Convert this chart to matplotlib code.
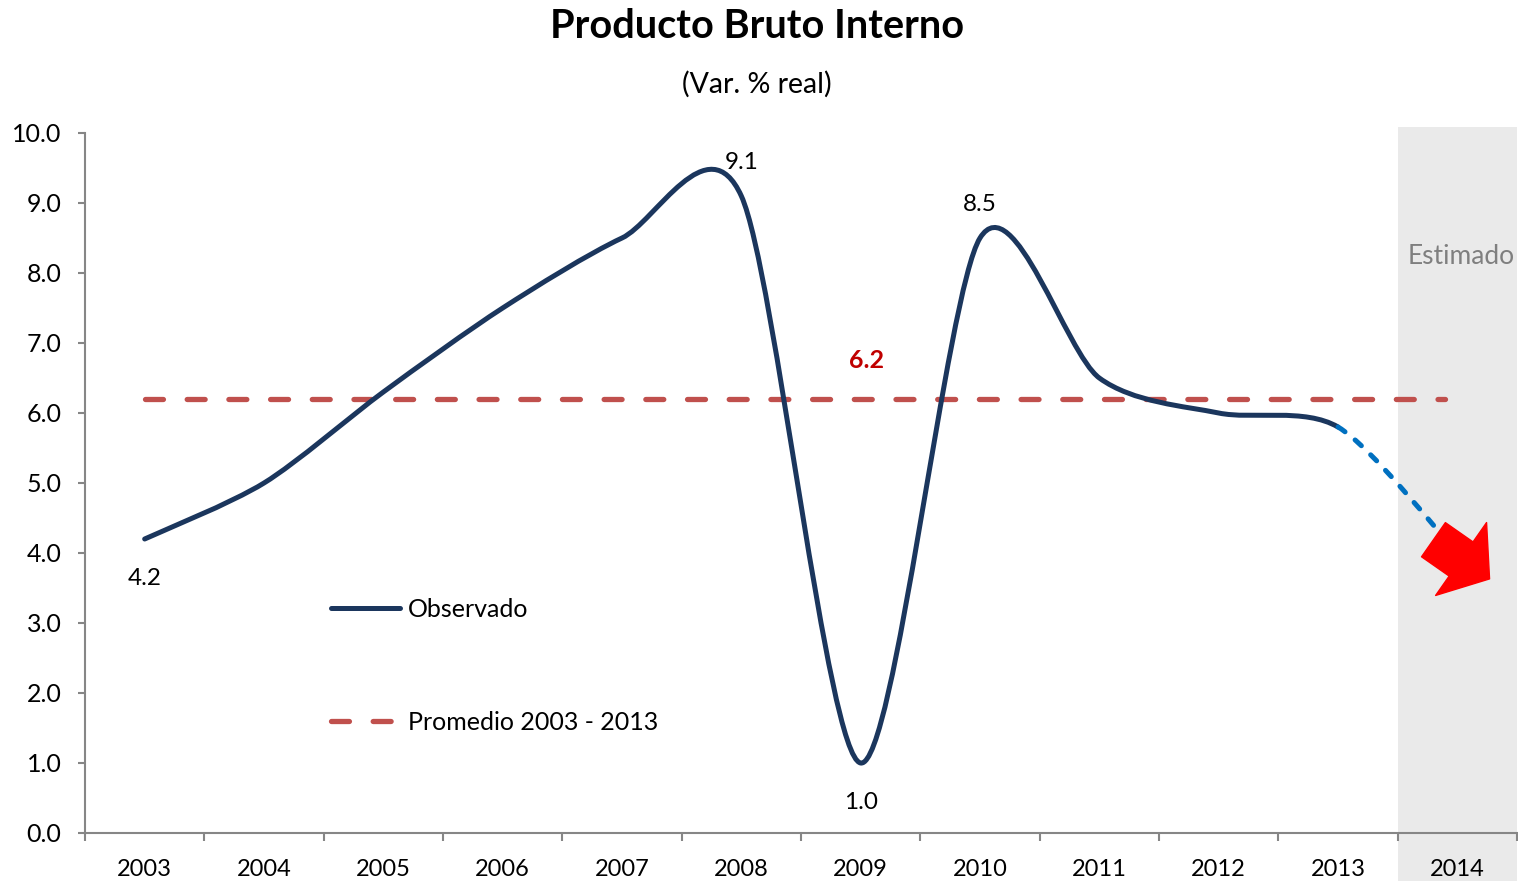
import numpy as np
import matplotlib
matplotlib.use("Agg")
import matplotlib.pyplot as plt
import matplotlib.transforms as mtransforms
from matplotlib.path import Path
from matplotlib.patches import PathPatch, Rectangle
from matplotlib.lines import Line2D

plt.rcParams['font.family'] = ['Lato', 'DejaVu Sans']

# Datos
years = ['2003', '2004', '2005', '2006', '2007', '2008', '2009',
         '2010', '2011', '2012', '2013', '2014']
observado = [4.2, 5.0, 6.3, 7.5, 8.5, 9.1, 1.0, 8.5, 6.5, 6.0, 5.8]
estimado_2014 = 4.0
promedio = 6.2
etiquetas = {'2003': 4.2, '2008': 9.1, '2009': 1.0, '2010': 8.5}
etiqueta_abajo = ['2003', '2009']
y_ticks = [0, 1, 2, 3, 4, 5, 6, 7, 8, 9, 10]

NAVY = '#1B365D'
RED_AVG = '#C0504D'
BLUE_EST = '#0070C0'


def smooth_segments(xs, ys, k=0.14):
    # curva suavizada tipo Excel (Bezier Catmull-Rom)
    pts = np.column_stack([xs, ys]).astype(float)
    n = len(pts)
    segs = []
    for i in range(n - 1):
        p0 = pts[max(i - 1, 0)]
        p1 = pts[i]
        p2 = pts[i + 1]
        p3 = pts[min(i + 2, n - 1)]
        c1 = p1 + (p2 - p0) * k
        c2 = p2 - (p3 - p1) * k
        segs.append([p1, c1, c2, p2])
    return segs


def segs_to_path(segs):
    verts = [segs[0][0]]
    codes = [Path.MOVETO]
    for s in segs:
        verts += [s[1], s[2], s[3]]
        codes += [Path.CURVE4] * 3
    return Path(verts, codes)


fig = plt.figure(figsize=(15.18, 8.81), dpi=100)
ax = fig.add_axes([85 / 1518, 48 / 881, 1432 / 1518, 700 / 881])
ax.set_facecolor('none')

x = np.arange(len(years))
serie = observado + [estimado_2014]
segs = smooth_segments(x, serie)

# zona estimada
trans = mtransforms.blended_transform_factory(ax.transData, fig.transFigure)
ax.add_patch(Rectangle((len(years) - 1.5, 0), 1, 754 / 881, transform=trans,
                       facecolor='#EAEAEA', edgecolor='none', zorder=0,
                       clip_on=False))
ax.text(len(years) - 1 + 0.03, 8.23, 'Estimado', color='#7F7F7F',
        fontsize=19, ha='center', va='center')

# promedio
ax.plot([x[0], x[-1] - 0.1], [promedio, promedio], color=RED_AVG, lw=3.8,
        dashes=(3.4, 4.5), dash_capstyle='round', zorder=2)
ax.annotate(f'{promedio:.1f}', (6.05, promedio), xytext=(0, 28),
            textcoords='offset points', ha='center', va='center',
            color='#C00000', fontsize=18, fontweight='bold')

# observado
obs_path = segs_to_path(segs[:len(observado) - 1])
ax.add_patch(PathPatch(obs_path, facecolor='none', edgecolor=NAVY, lw=3.6,
                       capstyle='round', joinstyle='round', zorder=3))

# estimado
est_path = segs_to_path(segs[len(observado) - 1:])
ax.add_patch(PathPatch(est_path, facecolor='none', edgecolor=BLUE_EST, lw=3.6,
                       linestyle=(0, (1.7, 2.6)), capstyle='round', zorder=3))

# flecha roja
x14 = len(years) - 1
ax.annotate('', xy=(x14 + 0.27, estimado_2014 - 0.37),
            xytext=(x14 - 0.2, estimado_2014 + 0.19),
            arrowprops=dict(arrowstyle='simple,head_length=25,head_width=64,tail_width=30',
                            color='#FF0000', mutation_scale=1,
                            shrinkA=0, shrinkB=0), zorder=4)

# etiquetas de datos
for yr, val in etiquetas.items():
    i = years.index(yr)
    off = -28.5 if yr in etiqueta_abajo else 24
    ax.annotate(f'{val:.1f}', (i, val), xytext=(0, off),
                textcoords='offset points', ha='center', va='center',
                fontsize=17.5)

# ejes
ax.set_xlim(-0.5, len(years) - 0.5)
ax.set_ylim(0, 10)
ax.set_yticks(y_ticks)
ax.set_yticklabels([f'{v:.1f}' for v in y_ticks])
ax.set_xticks(np.arange(len(years) + 1) - 0.5)
ax.set_xticklabels([])
ax.set_xticks(x, minor=True)
ax.set_xticklabels(years, minor=True)
ax.tick_params(axis='x', which='major', length=6, width=1.5, color='#868686')
ax.tick_params(axis='x', which='minor', length=0, pad=19, labelsize=17)
ax.tick_params(axis='y', length=5, width=1.5, color='#868686', pad=12,
               labelsize=18)
for s in ['top', 'right']:
    ax.spines[s].set_visible(False)
for s in ['left', 'bottom']:
    ax.spines[s].set_color('#868686')
    ax.spines[s].set_linewidth(1.5)

# leyenda
handles = [Line2D([], [], color=NAVY, lw=3.6, solid_capstyle='round'),
           Line2D([], [], color=RED_AVG, lw=3.8, dashes=(3.4, 4.5),
                  dash_capstyle='round')]
ax.legend(handles, ['Observado', 'Promedio 2003 - 2013'], loc='center left',
          bbox_to_anchor=(0.172, 0.2386), frameon=False, fontsize=18,
          handlelength=2.75, handletextpad=0.3, labelspacing=3.6,
          borderpad=0, borderaxespad=0)

fig.text(757 / 1518, 1 - 27 / 881, 'Producto Bruto Interno', ha='center',
         va='center', fontsize=28.5, fontweight='bold')
fig.text(757 / 1518, 1 - 84 / 881, '(Var. % real)', ha='center',
         va='center', fontsize=20.5)

plt.savefig('out.png', dpi=100)
